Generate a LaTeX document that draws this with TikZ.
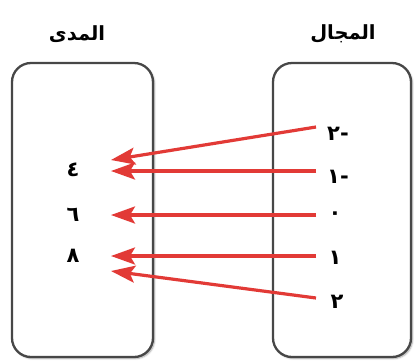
\documentclass[tikz,border=0pt]{standalone}
\usepackage{fontspec}
\newfontfamily\arabicfont[Script=Arabic]{DejaVu Sans}
\TeXXeTstate=1
\usetikzlibrary{arrows.meta,shadows.blur}
\definecolor{arrred}{HTML}{E23A36}
\definecolor{boxgray}{HTML}{474747}
\tikzset{
  setbox/.style={draw=boxgray, line width=2.3pt, rounded corners=19pt, fill=white,
    blur shadow={shadow xshift=1.5pt, shadow yshift=-1.5pt, shadow blur steps=6, shadow opacity=35}},
  title/.style={font=\arabicfont\bfseries\fontsize{19.5}{22}\selectfont, inner sep=0pt},
  num/.style={font=\arabicfont\bfseries\fontsize{21}{24}\selectfont, inner sep=0pt},
  maparrow/.style={draw=arrred, line width=3.2pt, -{Stealth[length=24pt,width=17pt,inset=5pt]}}
}
\begin{document}
\begin{tikzpicture}[x=1pt,y=-1pt]
\useasboundingbox (0,0) rectangle (414,360);
% boxes
\node[setbox, minimum width=141pt, minimum height=294pt] (range) at (82.5,210) {};
\node[setbox, minimum width=138pt, minimum height=294pt] (domain) at (342,210) {};
% titles
\node[title] (trange) at (77,34) {\beginR المدى\endR};
\node[title] (tdomain) at (343,34) {\beginR المجال\endR};
% range values
\node[num] (r4) at (73,170) {٤};
\node[num] (r6) at (73,215) {٦};
\node[num] (r8) at (73,256) {٨};
% domain values
\node[num] (dm2) at (338,134) {\beginR -٢\endR};
\node[num] (dm1) at (338,177) {\beginR -١\endR};
\node[num] (d0) at (335,216) {٠};
\node[num] (d1) at (335,258) {١};
\node[num] (d2) at (337,302) {٢};
% connector ends
\coordinate (sm2) at (316,127);
\coordinate (sm1) at (316,171);
\coordinate (s0) at (316,215);
\coordinate (s1) at (316,256);
\coordinate (s2) at (316,298);
\coordinate (e4a) at (111,160);
\coordinate (e4b) at (111,171);
\coordinate (e6) at (111,215);
\coordinate (e8a) at (111,256);
\coordinate (e8b) at (111,271);
% arrows
\draw[maparrow] (sm2) -- (e4a);
\draw[maparrow] (sm1) -- (e4b);
\draw[maparrow] (s0) -- (e6);
\draw[maparrow] (s1) -- (e8a);
\draw[maparrow] (s2) -- (e8b);
\end{tikzpicture}
\end{document}
